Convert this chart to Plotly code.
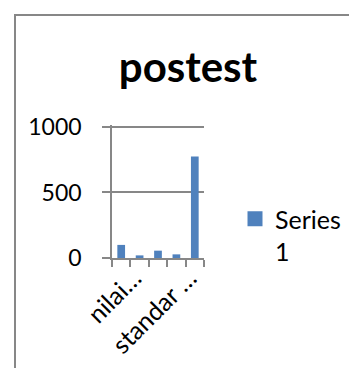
import plotly.graph_objects as go

# Descriptive statistics of the post-test scores
categories = ["nilai tertinggi", "nilai terendah", "rata-rata", "standar deviasi", "varians"]
values = [100, 20, 56, 27.8, 774]
tick_text = ["nilai…", "", "", "standar …", ""]
series_name = "Series<br>1"
y_ticks = [0, 500, 1000]
y_max = 1015

W, H = 349, 368
L, R, T, B = 112, 145, 125, 110
GRAY = "#878787"
BLUE = "#4f81bd"
FONT = "Lato"
FS = 25

fig = go.Figure()
fig.add_trace(
    go.Bar(
        x=categories,
        y=values,
        name=series_name,
        marker=dict(color=BLUE, line=dict(width=0)),
        width=0.42,
        showlegend=False,
    )
)
# legend entry with a square swatch
fig.add_trace(
    go.Scatter(
        x=[None], y=[None], mode="markers", name=series_name,
        marker=dict(symbol="square", size=15, color=BLUE),
        showlegend=True,
    )
)

pw = W - L - R
ph = H - T - B
# outer chart frame (left and top edges visible)
fig.add_shape(
    type="rect", xref="paper", yref="paper",
    x0=(15 - L) / pw, x1=(W + 20 - L) / pw,
    y0=-(H + 20 - T - ph) / ph, y1=(T - 15 + ph) / ph,
    line=dict(color=GRAY, width=2), fillcolor="rgba(0,0,0,0)", layer="below",
)

fig.update_layout(
    width=W, height=H,
    margin=dict(l=L, r=R, t=T, b=B, pad=0, autoexpand=False),
    paper_bgcolor="white", plot_bgcolor="white",
    font=dict(family=FONT, size=FS, color="black"),
    title=dict(
        text="<b>postest</b>", x=188 / W, xanchor="center",
        y=1 - 82 / H, yanchor="bottom", yref="container",
        font=dict(family=FONT, size=42, color="black"),
    ),
    xaxis=dict(
        type="category", automargin=False,
        tickmode="array", tickvals=categories, ticktext=tick_text,
        tickson="boundaries", ticks="outside", ticklen=7, tickwidth=1.5, tickcolor=GRAY,
        tickangle=-45, ticklabelshift=13, ticklabelstandoff=-6,
        showline=True, linecolor=GRAY, linewidth=1.5,
        showgrid=False, zeroline=False,
        tickfont=dict(family=FONT, size=FS, color="black"),
    ),
    yaxis=dict(
        range=[0, y_max], tickvals=y_ticks, automargin=False,
        ticks="outside", ticklen=8, tickwidth=1.5, tickcolor=GRAY,
        ticklabelstandoff=16,
        showline=True, linecolor=GRAY, linewidth=1.5,
        showgrid=True, gridcolor=GRAY, gridwidth=1.5, zeroline=False,
        tickfont=dict(family=FONT, size=23, color="black"),
    ),
    legend=dict(
        x=(235 - L) / pw, xanchor="left", y=(T + ph - 196) / ph, yanchor="top",
        font=dict(family=FONT, size=FS, color="black"),
        itemwidth=30, valign="top", bgcolor="rgba(0,0,0,0)",
    ),
    bargap=0.58,
)

fig.write_html("out.html")
